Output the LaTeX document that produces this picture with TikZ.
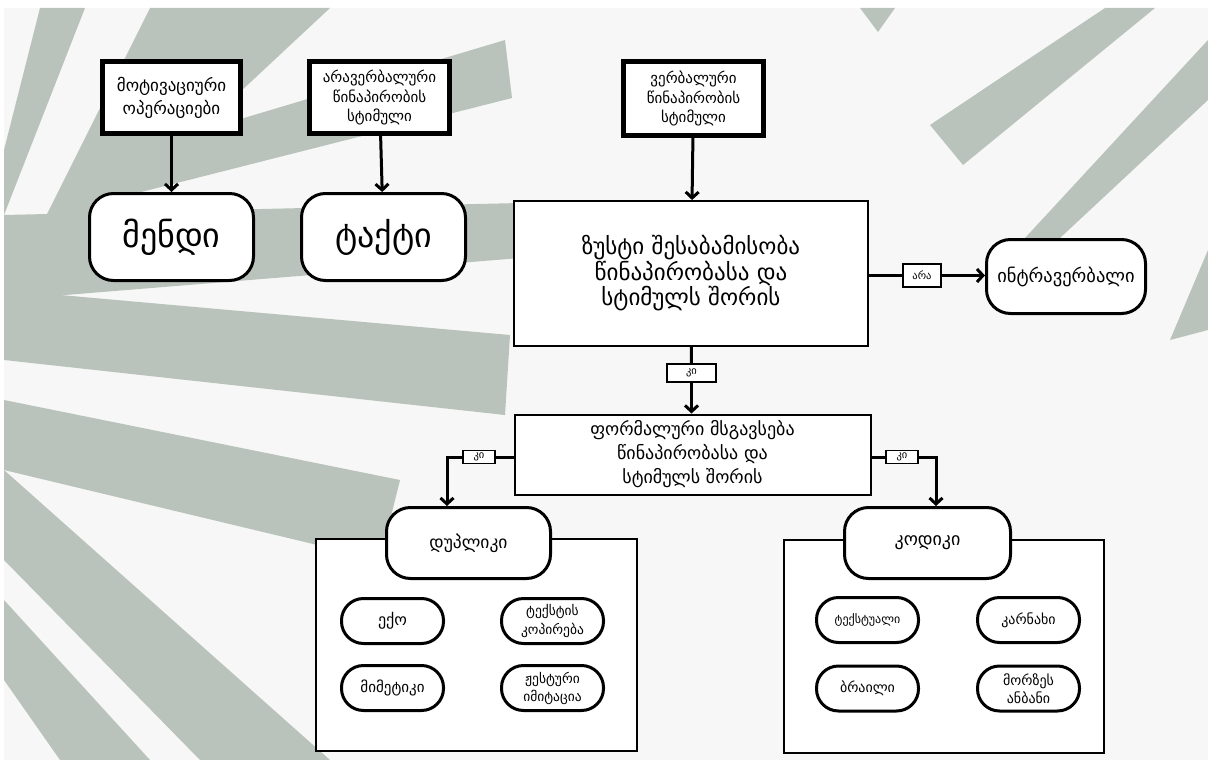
\documentclass[tikz,border=0pt]{standalone}
\usepackage{fontspec}
\setmainfont{DejaVu Sans}
\usetikzlibrary{arrows.meta}
\definecolor{sage}{HTML}{BAC3BB}
\definecolor{paper}{HTML}{F6F7F6}
\newcommand{\fsz}[2]{\fontsize{#1}{#2}\selectfont}

\begin{document}
\begin{tikzpicture}[x=1pt, y=-1pt]
    % Define styles
    \tikzstyle{source} = [rectangle, draw, line width=5pt, fill=white, align=center, inner sep=0pt]
    \tikzstyle{operant} = [rectangle, draw, line width=3pt, fill=white, rounded corners=24pt, align=center, inner sep=0pt]
    \tikzstyle{question} = [rectangle, draw, line width=2pt, fill=white, align=center, inner sep=0pt]
    \tikzstyle{answer} = [rectangle, draw, line width=1.8pt, fill=white, font=\fsz{10.5}{11}, inner sep=0pt]
    \tikzstyle{group} = [rectangle, draw, line width=2pt, fill=white]
    \tikzstyle{pill} = [rectangle, draw, line width=3pt, fill=white, rounded corners=22pt, align=center, inner sep=0pt, minimum width=102pt, minimum height=45pt]
    \tikzstyle{line} = [line width=3pt]
    \tikzstyle{arrow} = [line width=3pt, -{Straight Barb[length=6pt,width=13pt]}]

    % Background with brush rays
    \fill[white] (0,0) rectangle (1208,760);
    \fill[paper] (4,8) rectangle (1208,760);
    \begin{scope}
        \clip (4,8) rectangle (1208,760);
        \fill[sage] (4,150) -- (40,8) -- (85,8) -- (4,215) -- cycle;
        \fill[sage] (4,300) -- (150,8) -- (330,8) -- (60,260) -- cycle;
        \fill[sage] (70,170) -- (505,40) -- (512,98) -- (90,205) -- cycle;
        \fill[sage] (4,215) -- (520,203) -- (520,258) -- (4,300) -- cycle;
        \fill[sage] (4,290) -- (510,335) -- (505,415) -- (4,360) -- cycle;
        \fill[sage] (4,400) -- (400,480) -- (380,560) -- (4,470) -- cycle;
        \fill[sage] (4,470) -- (330,760) -- (200,760) -- (4,560) -- cycle;
        \fill[sage] (4,600) -- (150,760) -- (60,760) -- (4,680) -- cycle;
        \fill[sage] (860,8) -- (895,8) -- (878,32) -- cycle;
        \fill[sage] (930,125) -- (1105,8) -- (1155,8) -- (963,165) -- cycle;
        \fill[sage] (1025,238) -- (1208,40) -- (1208,100) -- (1060,238) -- cycle;
        \fill[sage] (1170,340) -- (1208,250) -- (1208,330) -- cycle;
    \end{scope}

    % Antecedent boxes
    \node [source, minimum width=138pt, minimum height=72pt, font=\fsz{17}{23}] (mo) at (171.5,97.5) {მოტივაციური\\ოპერაციები};
    \node [source, minimum width=140pt, minimum height=72pt, font=\fsz{15}{19.5}] (nonverbal) at (379.5,97.5) {არავერბალური\\წინაპირობის\\სტიმული};
    \node [source, minimum width=140pt, minimum height=74pt, font=\fsz{15}{19.5}] (verbal) at (693.5,98.5) {ვერბალური\\წინაპირობის\\სტიმული};

    % Operants
    \node [operant, minimum width=164pt, minimum height=87pt, font=\fsz{34}{36}] (mand) at (171.5,237) {მენდი};
    \node [operant, minimum width=164pt, minimum height=87pt, font=\fsz{34}{36}] (tact) at (383.5,237) {ტაქტი};
    \node [question, minimum width=354pt, minimum height=145pt, font=\fsz{23}{25.5}] (exact) at (691,273.5) {ზუსტი შესაბამისობა\\წინაპირობასა და\\სტიმულს შორის};
    \node [answer, minimum width=38pt, minimum height=23pt] (no) at (922,275.5) {არა};
    \node [operant, minimum width=159pt, minimum height=74pt, font=\fsz{18.5}{20}] (intraverbal) at (1066,276.5) {ინტრავერბალი};
    \node [answer, minimum width=49pt, minimum height=18pt] (yes) at (691.5,373) {კი};
    \node [question, minimum width=356pt, minimum height=80pt, font=\fsz{18}{24}] (formal) at (692.5,454.5) {ფორმალური მსგავსება\\წინაპირობასა და\\სტიმულს შორის};
    \node [answer, minimum width=32pt, minimum height=13pt] (yesleft) at (479,457) {კი};
    \node [answer, minimum width=32pt, minimum height=13pt] (yesright) at (902,457) {კი};

    % Groups
    \node [group, minimum width=321pt, minimum height=212pt] (dupgroup) at (476.5,645) {};
    \node [group, minimum width=320pt, minimum height=213pt] (codgroup) at (944,646.5) {};
    \node [operant, minimum width=164pt, minimum height=71pt, font=\fsz{17.5}{19}] (duplic) at (468.5,543) {დუპლიკი};
    \node [operant, minimum width=166pt, minimum height=71pt, font=\fsz{18}{19}] (codic) at (927.5,543) {კოდიკი};

    \node [pill, font=\fsz{16}{20}] (echo) at (392.5,621) {ექო};
    \node [pill, font=\fsz{13.5}{18}] (copy) at (552.5,621) {ტექსტის\\კოპირება};
    \node [pill, font=\fsz{15}{18}] (mimetic) at (392.5,688) {მიმეტიკი};
    \node [pill, font=\fsz{13.5}{18}] (gesture) at (552.5,688) {ჟესტური\\იმიტაცია};
    \node [pill, font=\fsz{12}{17}] (textual) at (867.5,620) {ტექსტუალი};
    \node [pill, font=\fsz{14}{17}] (dictation) at (1028.5,620) {კარნახი};
    \node [pill, font=\fsz{14}{17}] (braille) at (867.5,688.5) {ბრაილი};
    \node [pill, font=\fsz{14}{18}] (morse) at (1028.5,688.5) {მორზეს\\ანბანი};

    % Arrows
    \draw [arrow] (mo) -- (mand);
    \draw [arrow] (nonverbal) -- (tact);
    \draw [arrow] (verbal) -- (exact);
    \draw [line] (exact.east |- no) -- (no);
    \draw [arrow] (no) -- (intraverbal.west |- no);
    \draw [line] (exact) -- (yes);
    \draw [arrow] (yes) -- (yes |- formal.north);
    \draw [line] (formal.west |- yesleft) -- (yesleft);
    \draw [arrow] (yesleft.west) -| ([xshift=-21.5pt]duplic.north);
    \draw [line] (formal.east |- yesright) -- (yesright);
    \draw [arrow] (yesright.east) -| ([xshift=8.5pt]codic.north);
\end{tikzpicture}
\end{document}
